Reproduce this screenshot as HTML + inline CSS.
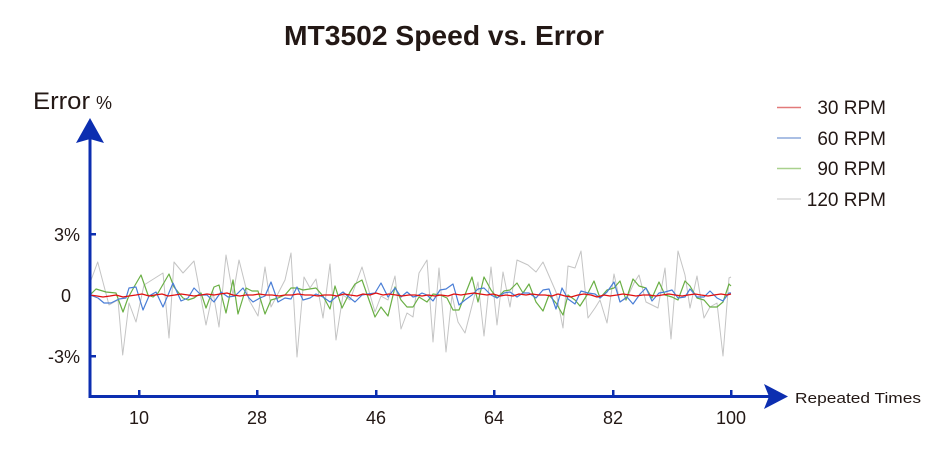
<!DOCTYPE html>
<html>
<head>
<meta charset="utf-8">
<style>
html,body{margin:0;padding:0;background:#fff;}
svg{display:block;}
text{font-family:"Liberation Sans", sans-serif;fill:#231815;}
</style>
</head>
<body>
<svg width="941" height="449" viewBox="0 0 941 449" xmlns="http://www.w3.org/2000/svg">
<rect width="941" height="449" fill="#fff"/>
<!-- Title -->
<text x="444" y="45" font-size="28" font-weight="bold" text-anchor="middle" textLength="320" lengthAdjust="spacingAndGlyphs">MT3502 Speed vs. Error</text>

<!-- Y axis label -->
<text x="33" y="109" font-size="24" textLength="57" lengthAdjust="spacingAndGlyphs">Error</text>
<text x="96" y="109" font-size="18">%</text>

<!-- Y tick labels -->
<text x="80" y="241" font-size="18" text-anchor="end">3%</text>
<text x="66" y="302" font-size="18" text-anchor="middle">0</text>
<text x="80" y="363" font-size="18" text-anchor="end">-3%</text>

<!-- Series -->
<polyline fill="none" stroke="#c4c4c4" stroke-width="1" stroke-linejoin="round" points="90,283 97.7,262 109,305 118,300 122.7,355 129,303 136,322 144,285 163,273 169,338 174,262 183,273 194,261 201,298 206,325 213,292 219,327 226,255 233,295 239,260 249,300 258,316 265,267 271,307 285,280 291,253 297,357 304,277 310,288 316,279 323,318 330,264 336,340 343,295 350,300 362,267 375,312 381,296 388,300 395,276 401,329 407,313 413,317 419,273 427,260 433,342 439,268 446,352 452,295 458,322 465,333 478,282 484,336 491,267 497,325 503,272 510,307 517,260 528,265 536,272 543,262 556,292 563,328 568,266 575,268 581,251 588,318 595,308 600,300 607,323 614,274 620,302 627,298 634,283 639,275 646,302 658,308 665,268 671,339 678,251 685,275 690,308 697,276 704,318 710,307 717,303 723,356 729,278 731,277"/>
<polyline fill="none" stroke="#6aaf45" stroke-width="1.2" stroke-linejoin="round" points="90,295 96,289 106,292 116,293 123,312 128,298 134,287 141,275 148,295 153,297 158,293 169,274 174,287 183,298 188,300 194,298 201,293 206,308 214,287 219,285 226,313 233,280 238,314 246,288 252,291 258,291 265,314 271,300 278,298 285,295 291,288 297,288 303,290 316,288 323,296 330,309 335,286 342,308 350,292 355,284 362,280 375,317 381,307 388,316 395,287 401,300 407,307 413,307 419,297 427,302 433,294 440,295 447,298 453,310 459,310 472,277 478,302 484,277 491,290 497,298 504,291 510,290 517,283 523,293 529,284 536,302 543,311 549,295 556,303 563,315 568,295 575,300 580,306 587,295 594,281 600,298 607,290 614,288 620,281 626,300 633,279 639,286 646,288 652,298 659,282 665,295 672,297 678,300 685,281 690,286 697,298 704,300 710,307 717,307 723,302 729,284 731,286"/>
<polyline fill="none" stroke="#4a7ed6" stroke-width="1.2" stroke-linejoin="round" points="90,295 98,298 104,303 111,303 119,299 126,298 129,288 136,287 143,310 149,296 156,292 163,307 173,283 181,301 188,298 194,288 201,295 207,295 214,302 221,292 228,297 235,296 243,288 249,298 253,302 260,298 265,296 271,282 278,302 285,298 291,299 297,287 303,300 310,298 316,294 323,297 330,302 336,297 343,292 350,298 355,302 362,295 368,294 375,293 381,283 388,297 395,288 401,297 407,292 413,297 417,296 422,293 427,295 433,301 440,290 446,289 453,284 459,305 465,300 472,295 478,289 484,288 491,295 497,298 504,293 510,292 517,297 523,293 529,293 536,298 543,290 549,289 556,309 562,288 568,299 575,304 581,291 588,293 595,294 600,298 607,292 614,282 620,302 627,297 633,304 640,294 646,288 652,301 659,293 665,292 672,290 678,298 685,297 690,289 697,297 704,297 710,291 717,298 723,301 729,293 731,293"/>
<polyline fill="none" stroke="#e00f0f" stroke-width="1.2" stroke-linejoin="round" points="90,295 97,296 103,297 110,296 116,295 123,297 129,296 136,295 142,294 149,296 155,295 162,294 168,296 175,295 181,294 188,295 194,296 201,295 207,294 214,295 220,294 227,293 233,295 240,296 246,295 253,295 259,294 266,295 272,295 279,296 285,295 292,295 298,294 305,295 311,295 318,296 324,295 331,295 337,296 344,294 350,295 357,296 363,294 370,295 376,293 383,295 389,294 396,295 402,296 409,295 415,295 422,296 428,295 435,296 441,295 448,296 454,294 461,295 467,294 474,293 480,294 487,295 493,294 500,296 506,295 513,296 519,294 526,295 532,294 539,295 545,295 552,296 558,294 565,296 571,297 578,295 584,294 591,295 597,297 604,295 610,296 617,295 623,294 630,295 636,296 643,295 649,295 656,296 662,295 669,294 675,295 682,296 688,295 695,294 701,295 708,296 714,295 721,294 727,295 731,294"/>

<!-- Axes -->
<g fill="#0c2eb0" stroke="none">
  <rect x="88.5" y="138" width="3" height="260"/>
  <rect x="88.5" y="395" width="682" height="3"/>
  <polygon points="90,118 76,143 90,139 104,143"/>
  <polygon points="788,396.5 764,384 769,396.5 764,409"/>
  <!-- y ticks -->
  <rect x="90" y="233" width="6" height="2.5"/>
  <rect x="90" y="355" width="6" height="2.5"/>
  <!-- x ticks -->
  <rect x="138" y="390" width="2.5" height="6"/>
  <rect x="256" y="390" width="2.5" height="6"/>
  <rect x="375" y="390" width="2.5" height="6"/>
  <rect x="493" y="390" width="2.5" height="6"/>
  <rect x="612" y="390" width="2.5" height="6"/>
  <rect x="730" y="390" width="2.5" height="6"/>
</g>

<!-- X tick labels -->
<g font-size="18" text-anchor="middle">
  <text x="139" y="424">10</text>
  <text x="257" y="424">28</text>
  <text x="376" y="424">46</text>
  <text x="494" y="424">64</text>
  <text x="613" y="424">82</text>
  <text x="731" y="424">100</text>
</g>
<text x="795" y="403" font-size="15" textLength="126" lengthAdjust="spacingAndGlyphs">Repeated Times</text>

<!-- Legend -->
<g stroke-width="1.5">
  <line x1="777" y1="107.5" x2="801" y2="107.5" stroke="#e27a7a"/>
  <line x1="777" y1="138" x2="801" y2="138" stroke="#8eaadb"/>
  <line x1="777" y1="168.5" x2="801" y2="168.5" stroke="#a9d18e"/>
  <line x1="777" y1="199" x2="801" y2="199" stroke="#d9d9d9"/>
</g>
<g font-size="19" text-anchor="end">
  <text x="886" y="114">30 RPM</text>
  <text x="886" y="145">60 RPM</text>
  <text x="886" y="175">90 RPM</text>
  <text x="886" y="206">120 RPM</text>
</g>
</svg>
</body>
</html>
